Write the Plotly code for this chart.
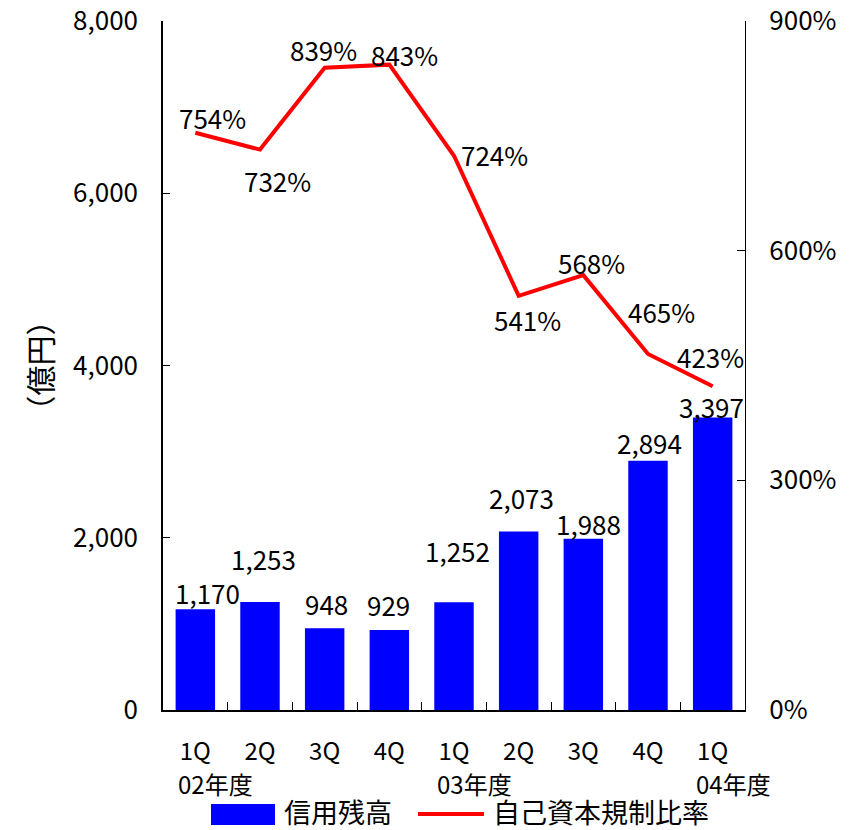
import plotly.graph_objects as go

# ---- data ----
quarters = ["1Q", "2Q", "3Q", "4Q", "1Q", "2Q", "3Q", "4Q", "1Q"]
fiscal_years = ["02年度", "03年度", "04年度"]
fiscal_year_start_idx = [0, 4, 8]
credit_balance = [1170, 1253, 948, 929, 1252, 2073, 1988, 2894, 3397]   # 億円
capital_ratio = [754, 732, 839, 843, 724, 541, 568, 465, 423]          # %
left_ticks = [0, 2000, 4000, 6000, 8000]
right_ticks = [0, 300, 600, 900]
right_tick_text = ["0%", "300%", "600%", "900%"]

bar_name = "信用残高"
line_name = "自己資本規制比率"
yaxis_title = "（億円）"

# ---- label offsets (pixels, style only) ----
bar_lbl_dx = [12, 3, 2, -1, 3, 3, 5, 1, -1]
bar_lbl_dy = [17, 44, 25, 25, 52, 34, 15, 18, 11]
line_lbl_dx = [17, 17, -1, 15, 40, 9, 8, 13, -2]
line_lbl_dy = [15, -31, 18, 10, 1, -24, 13, 43, 30]

FONT = "Noto Sans CJK JP, Noto Sans, sans-serif"
BLUE = "#0000FF"
RED = "#FF0000"

x_idx = list(range(len(quarters)))

fig = go.Figure()
fig.add_trace(go.Bar(
    x=x_idx, y=credit_balance, name=bar_name,
    marker=dict(color=BLUE, line=dict(width=0)),
    yaxis="y", showlegend=False,
))
fig.add_trace(go.Scatter(
    x=x_idx, y=capital_ratio, name=line_name, mode="lines",
    line=dict(color=RED, width=4),
    yaxis="y2", showlegend=False,
))

annotations = []
for i, v in enumerate(credit_balance):
    annotations.append(dict(
        x=i, y=v, xref="x", yref="y", text=f"{v:,}", showarrow=False,
        xshift=bar_lbl_dx[i], yshift=bar_lbl_dy[i], yanchor="middle",
        font=dict(family=FONT, size=26, color="black"),
    ))
for i, v in enumerate(capital_ratio):
    annotations.append(dict(
        x=i, y=v, xref="x", yref="y2", text=f"{v}%", showarrow=False,
        xshift=line_lbl_dx[i], yshift=line_lbl_dy[i], yanchor="middle",
        font=dict(family=FONT, size=26, color="black"),
    ))

def px(xp):
    return (xp - 163) / 582

def py(yp):
    return (711 - yp) / 689

for fy, idx in zip(fiscal_years, fiscal_year_start_idx):
    annotations.append(dict(
        x=idx, y=py(784), xref="x", yref="paper", text=fy, showarrow=False,
        xanchor="left", yanchor="middle", xshift=-18, borderpad=0,
        font=dict(family=FONT, size=24, color="black"),
    ))

LEG_Y = py(812)
# manual legend (text)
annotations.append(dict(x=px(283), y=LEG_Y, xref="paper", yref="paper",
                        text=bar_name, showarrow=False, xanchor="left", yanchor="middle",
                        borderpad=0, font=dict(family=FONT, size=27, color="black")))
annotations.append(dict(x=px(492), y=LEG_Y, xref="paper", yref="paper",
                        text=line_name, showarrow=False, xanchor="left", yanchor="middle",
                        borderpad=0, font=dict(family=FONT, size=27, color="black")))

shapes = [
    dict(type="rect", xref="paper", yref="paper",
         x0=px(211), x1=px(275), y0=py(805), y1=py(826),
         fillcolor=BLUE, line=dict(width=0)),
    dict(type="line", xref="paper", yref="paper",
         x0=px(418), x1=px(484), y0=py(815), y1=py(815),
         line=dict(color=RED, width=4)),
]

n = len(quarters)
fig.update_layout(
    width=850, height=830,
    margin=dict(l=163, r=105, t=21, b=120, autoexpand=False),
    paper_bgcolor="white", plot_bgcolor="white",
    font=dict(family=FONT, size=26, color="black"),
    bargap=0.39,
    showlegend=False,
    annotations=annotations,
    shapes=shapes,
    xaxis=dict(
        range=[-0.5, n - 0.5], tickmode="array",
        tickvals=x_idx, ticktext=quarters, ticks="",
        ticklabelstandoff=19,
        tickfont=dict(family=FONT, size=24),
        showline=True, linecolor="black", linewidth=1.5,
        showgrid=False, zeroline=False, fixedrange=True,
    ),
    xaxis2=dict(
        overlaying="x", matches="x", side="bottom", anchor="y",
        tickmode="array", tickvals=[i + 0.5 for i in range(n - 1)],
        showticklabels=False, ticks="inside", ticklen=8, tickwidth=1.2,
        tickcolor="black", showgrid=False, zeroline=False,
    ),
    yaxis=dict(
        range=[0, 8000], tickmode="array", tickvals=left_ticks,
        tickformat=",", ticks="inside", ticklen=7, tickcolor="black",
        ticklabelstandoff=18,
        showline=True, linecolor="black", linewidth=1.5,
        showgrid=False, zeroline=False,
        title=dict(text=yaxis_title, font=dict(family=FONT, size=30), standoff=12),
        tickfont=dict(family=FONT, size=26),
    ),
    yaxis2=dict(
        range=[0, 900], tickmode="array", tickvals=right_ticks,
        ticktext=right_tick_text, overlaying="y", side="right", anchor="x",
        ticks="inside", ticklen=8, tickcolor="black",
        ticklabelstandoff=18,
        showline=True, linecolor="black", linewidth=1.2,
        showgrid=False, zeroline=False,
        tickfont=dict(family=FONT, size=26),
    ),
)

# dummy trace to activate xaxis2 ticks
fig.add_trace(go.Scatter(x=[0], y=[0], xaxis="x2", yaxis="y", mode="markers",
                         marker=dict(opacity=0), hoverinfo="skip", showlegend=False))

fig.write_html("out.html", config={"displayModeBar": False},
               post_script="document.body.style.margin='0';")
